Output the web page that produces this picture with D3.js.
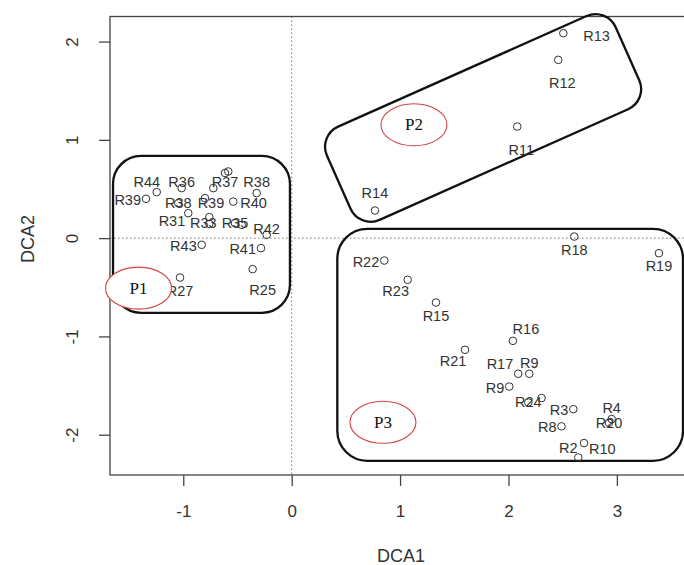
<!DOCTYPE html>
<html>
<head>
<meta charset="utf-8">
<script src="https://cdn.jsdelivr.net/npm/d3@7"></script>
<style>
  body { margin: 0; background: #fff; overflow: hidden; }
  .tick text { font-family: "Liberation Sans", Arial, sans-serif; font-size: 17px; fill: #333; }
  .tick line { stroke: #444; stroke-width: 1.3; }
  .siteText { font-family: "Liberation Sans", Arial, sans-serif; font-size: 14.5px; fill: #333; }
  .grpText { font-family: "Liberation Serif", "Times New Roman", serif; font-size: 17px; fill: #111; }
  .aText { font-family: "Liberation Sans", Arial, sans-serif; font-size: 18px; fill: #333; }
</style>
</head>
<body>
<div id="scatter"></div>
<script>
// site scores (DCA axis 1 / axis 2)
var sites = ['R13','R12','R11','R14',
  'R18','R19','R22','R23','R15','R21','R16','R17','R9','R9','R24','','R3','R4','R20','R8','R10','R2',
  'R39','R44','R36','R37','','','R38','R38','R39','R40','R31','R33','','R35','','R42','R43','R41','R25','R27'];
var dca1 = [2.506, 2.459, 2.081, 0.768,
  2.607, 3.388, 0.854, 1.070, 1.331, 1.599, 2.041, 2.090, 2.192, 2.007, 2.183, 2.305, 2.598, 2.952, 2.927, 2.489, 2.697, 2.644,
  -1.344, -1.245, -1.015, -0.615, -0.585, -0.723, -0.323, -1.046, -0.800, -0.539, -0.954, -0.760, -0.760, -0.523, -0.461, -0.231, -0.830, -0.283, -0.360, -1.030];
var dca2 = [2.085, 1.814, 1.135, 0.281,
  0.016, -0.153, -0.228, -0.424, -0.655, -1.136, -1.045, -1.380, -1.380, -1.510, -1.672, -1.627, -1.740, -1.841, -1.879, -1.915, -2.085, -2.232,
  0.400, 0.468, 0.509, 0.663, 0.678, 0.509, 0.458, 0.356, 0.407, 0.372, 0.254, 0.214, 0.145, 0.153, 0.135, 0.034, -0.068, -0.102, -0.315, -0.401];
// where each label sits next to its point
var labelPos = ['r2','b2','b2','t2',
  'b','b','l','bl','b','bl','tr','lt','t','l','c','','l','t','c','l','rb','tl',
  'l','tl','t1','b1','','','t','c','cb','r','lb','cl','','c','','t1','l','l','br','b'];

var xTicks = [-1, 0, 1, 2, 3];
var yTicks = [-2, -1, 0, 1, 2];

// group annotations
var groups = ['P1', 'P2', 'P3'];
var groupX = [-1.413, 1.128, 0.842];
var groupY = [-0.509, 1.153, -1.874];
var boxP1 = {x: [-1.648, -0.016], y: [-0.76, 0.837]};
var boxP3 = {x: [0.421, 3.61], y: [-2.266, 0.095]};
var boxP2 = {cx: 1.766, cy: 1.223};

var svgWidth = 684;
var svgHeight = 565;
var margin = {top: 16.5, left: 110};
var bottom = 475;

var svg = d3.select('#scatter')
    .append('svg')
    .attr('width', svgWidth)
    .attr('height', svgHeight);

var xScale = d3.scaleLinear()
    .domain([-1.676, 3.7])
    .range([margin.left, margin.left + 5.376 * 108.4]);

var yScale = d3.scaleLinear()
    .domain([-2.41, 2.255])
    .range([bottom, margin.top]);

// zero reference lines
svg.append('line')
    .attr('x1', xScale(0)).attr('x2', xScale(0))
    .attr('y1', margin.top).attr('y2', bottom)
    .attr('stroke', '#777').attr('stroke-dasharray', '1.5,2.5');
svg.append('line')
    .attr('x1', margin.left).attr('x2', xScale.range()[1])
    .attr('y1', yScale(0)).attr('y2', yScale(0))
    .attr('stroke', '#777').attr('stroke-dasharray', '1.5,2.5');

// frame
svg.append('rect')
    .attr('x', margin.left).attr('y', margin.top)
    .attr('width', xScale.range()[1] - margin.left)
    .attr('height', bottom - margin.top)
    .attr('fill', 'none').attr('stroke', '#444').attr('stroke-width', 1.3);

var fmt = d => String(d);

var xAxis = svg.append('g')
    .attr('transform', `translate(0, ${bottom})`)
    .call(d3.axisBottom(xScale).tickValues(xTicks).tickSize(11).tickPadding(19).tickFormat(fmt));
xAxis.select('.domain').remove();
xAxis.selectAll('.tick text').attr('dy', '0.71em');

var yAxis = svg.append('g')
    .attr('transform', `translate(${margin.left}, 0)`)
    .call(d3.axisLeft(yScale).tickValues(yTicks).tickSize(11).tickFormat(fmt));
yAxis.select('.domain').remove();
yAxis.selectAll('.tick text')
    .attr('transform', 'rotate(-90)')
    .attr('x', 0).attr('y', -38).attr('dy', null)
    .attr('text-anchor', 'middle')
    .attr('dominant-baseline', 'central');

svg.append('text')
    .attr('class', 'aText')
    .attr('x', 401).attr('y', 556)
    .attr('text-anchor', 'middle').attr('dominant-baseline', 'central')
    .text('DCA1');
svg.append('text')
    .attr('class', 'aText')
    .attr('transform', 'translate(28, 239) rotate(-90)')
    .attr('text-anchor', 'middle').attr('dominant-baseline', 'central')
    .text('DCA2');

// group boxes
function roundBox(b, r) {
    svg.append('rect')
        .attr('x', xScale(b.x[0])).attr('y', yScale(b.y[1]))
        .attr('width', xScale(b.x[1]) - xScale(b.x[0]))
        .attr('height', yScale(b.y[0]) - yScale(b.y[1]))
        .attr('rx', r).attr('ry', r)
        .attr('fill', 'none').attr('stroke', '#111').attr('stroke-width', 2.3);
}
roundBox(boxP1, 28);
roundBox(boxP3, 30);
svg.append('rect')
    .attr('transform', `translate(${xScale(boxP2.cx)}, ${yScale(boxP2.cy)}) rotate(-24)`)
    .attr('x', -158).attr('y', -51).attr('width', 316).attr('height', 102)
    .attr('rx', 22).attr('ry', 22)
    .attr('fill', 'none').attr('stroke', '#111').attr('stroke-width', 2.3);

var points = sites.map(function(s, i) {
    return {site: s, x: dca1[i], y: dca2[i], pos: labelPos[i]};
});

svg.selectAll('circle.site')
    .data(points)
    .enter()
    .append('circle')
    .attr('class', 'site')
    .attr('cx', d => xScale(d.x))
    .attr('cy', d => yScale(d.y))
    .attr('r', 3.8)
    .attr('fill', 'none')
    .attr('stroke', '#333')
    .attr('stroke-width', 1);

var offs = {
    c: [0, 0, 'middle'], t: [0, -11, 'middle'], t1: [0, -6, 'middle'], t2: [0, -18, 'middle'],
    b: [0, 13, 'middle'], b1: [0, 9, 'middle'], b2: [4, 23, 'middle'],
    l: [-5, 1, 'end'], lt: [-5, -10, 'end'], lb: [-3, 8, 'end'],
    r: [7, 1, 'start'], r2: [20, 3, 'start'], rb: [5, 6, 'start'],
    tl: [-10, -10, 'middle'], tr: [13, -12, 'middle'], bl: [-12, 11, 'middle'],
    br: [10, 21, 'middle'], cb: [6, 5, 'middle'], cl: [-6, 6, 'middle']
};

svg.selectAll('text.siteText')
    .data(points.filter(d => d.site))
    .enter()
    .append('text')
    .attr('class', 'siteText')
    .attr('x', d => xScale(d.x) + offs[d.pos][0])
    .attr('y', d => yScale(d.y) + offs[d.pos][1])
    .attr('text-anchor', d => offs[d.pos][2])
    .attr('dominant-baseline', 'central')
    .text(d => d.site);

// red group ellipses
groups.forEach(function(g, i) {
    svg.append('ellipse')
        .attr('cx', xScale(groupX[i])).attr('cy', yScale(groupY[i]))
        .attr('rx', 33).attr('ry', 21)
        .attr('fill', '#fff').attr('stroke', '#d24545').attr('stroke-width', 1.1);
    svg.append('text')
        .attr('class', 'grpText')
        .attr('x', xScale(groupX[i])).attr('y', yScale(groupY[i]))
        .attr('text-anchor', 'middle').attr('dominant-baseline', 'central')
        .text(g);
});
</script>
</body>
</html>
